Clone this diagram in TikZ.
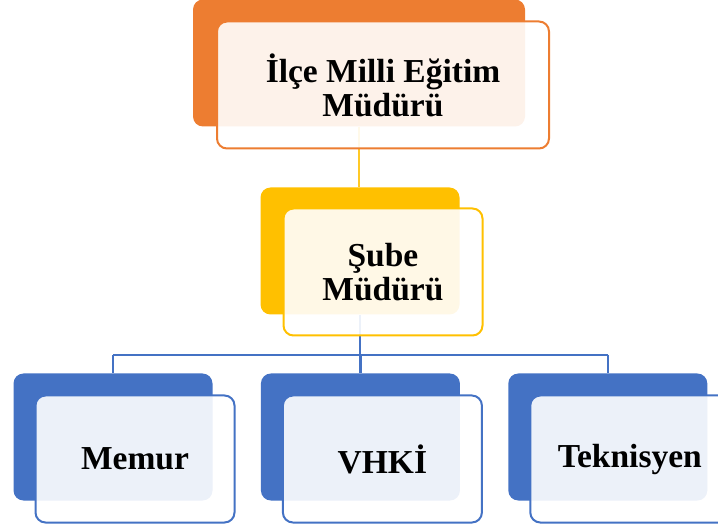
\documentclass[tikz,border=0pt]{standalone}
\usepackage{fontspec}
\setmainfont{Liberation Serif}
\usetikzlibrary{positioning}
\definecolor{orgA}{HTML}{ED7D31}
\definecolor{yelA}{HTML}{FFC000}
\definecolor{bluA}{HTML}{4472C4}

\begin{document}
\begin{tikzpicture}[x=1pt, y=-1pt,
     node distance = 48pt,
       bbox/.style = {rectangle, rounded corners=10pt, inner sep=0pt, fill=#1},
       fbox/.style = {rectangle, rounded corners=10pt, inner sep=0pt, draw=#1, line width=2pt,
                      fill=white, fill opacity=0.9, text opacity=1, align=center,
                      font=\fontsize{33.5}{34}\selectfont\bfseries},
       wide/.style = {minimum width=332pt, minimum height=127pt},
      small/.style = {minimum width=199pt, minimum height=127pt},
       conn/.style = {draw=#1, line width=2.3pt}
                    ]
\useasboundingbox (0,0) rectangle (718,529);
\clip (0,0) rectangle (718,529);
\node (ilceB)  [bbox=orgA, wide]  at (359,63) {};
\node (subeB)  [bbox=yelA, small] at (360,251) {};
\node (memurB) [bbox=bluA, small] at (113,437) {};
\node (vhkiB)  [bbox=bluA, small, right=of memurB] {};
\node (tekB)   [bbox=bluA, small, right=of vhkiB] {};
\coordinate (bus) at (360,355);
\draw[conn=yelA!85] (ilceB.south) -- (ilceB.south |- subeB.north);
\draw[conn=bluA] (subeB.south) -- (bus);
\draw[conn=bluA] (bus -| memurB.north) -- (bus -| tekB.north);
\foreach \n in {memurB, vhkiB, tekB}
  \draw[conn=bluA] (bus -| \n.north) -- (\n.north);
\node (ilce)  [fbox=orgA, wide]  at ([shift={(24,22)}]ilceB) {İlçe Milli Eğitim\\Müdürü};
\node (sube)  [fbox=yelA, small] at ([shift={(23,21)}]subeB) {Şube\\Müdürü};
\node (memur) [fbox=bluA, small] at ([shift={(22,22)}]memurB) {Memur};
\node (vhki)  [fbox=bluA, small] at ([shift={(22,22)}]vhkiB) {VHKİ};
\node (tek)   [fbox=bluA, small] at ([shift={(22,22)}]tekB) {Teknisyen};
\end{tikzpicture}
\end{document}
